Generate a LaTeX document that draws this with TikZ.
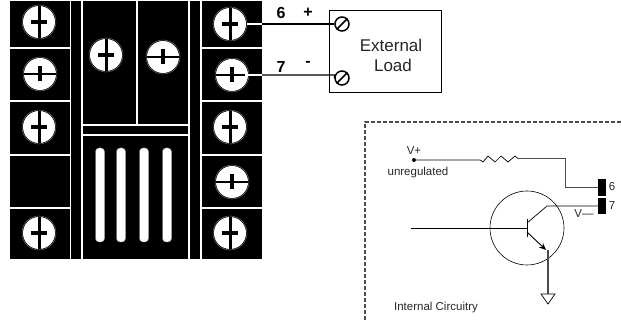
\documentclass[tikz,border=0pt]{standalone}
\usepackage{fontspec}
\setmainfont{Liberation Sans}
\usetikzlibrary{arrows.meta}
\tikzset{
  every picture/.style={x=1pt,y=-1pt},
  divider/.style={draw=white,line width=1.5pt},
  wire/.style={draw=black,line width=0.7pt},
  heavywire/.style={draw=black,line width=1.3pt},
  greywire/.style={draw=black!70,line width=0.8pt},
  slotbar/.style={fill=white,draw=black!45,line width=0.4pt,rounded corners=3.5pt},
  lbl/.style={inner sep=0pt,font=\fontsize{11.5}{12}\selectfont,text=black!85},
  biglbl/.style={inner sep=0pt,font=\fontsize{17}{18}\selectfont,text=black!85},
  boldlbl/.style={inner sep=0pt,font=\bfseries\fontsize{16}{17}\selectfont},
  loadscrew/.style={circle,draw=black,fill=white,line width=1.5pt,minimum size=14pt,inner sep=0pt},
  pin/.style={fill=black,draw=none},
}
% vertical-slot screw
\newcommand{\screwV}[2]{%
  \fill[white] (#1,#2) circle[radius=16];
  \draw[black!50,line width=0.4pt] (#1,#2) circle[radius=17];
  \fill[black] (#1-1.5,#2-16) rectangle (#1+1.5,#2+16);
  \fill[black] (#1-8,#2-2.3) rectangle (#1+8,#2+2.3);
}
% horizontal-slot screw
\newcommand{\screwH}[2]{%
  \fill[white] (#1,#2) circle[radius=16];
  \draw[black!50,line width=0.4pt] (#1,#2) circle[radius=17];
  \fill[black] (#1-16,#2-1) rectangle (#1+16,#2+1);
  \fill[black] (#1-2,#2-7.5) rectangle (#1+2,#2+7.5);
}
\begin{document}
\begin{tikzpicture}
\useasboundingbox (0,0) rectangle (621,320);
% terminal block
\fill[black] (10,1) rectangle (262,259);
% vertical dividers
\draw[divider] (70.5,0) -- (70.5,259);
\draw[divider] (82,0) -- (82,259);
\draw[divider] (189,0) -- (189,259);
\draw[divider] (201,0) -- (201,259);
\draw[divider] (137,0) -- (137,125);
% horizontal dividers, centre
\draw[divider] (82,125) -- (189,125);
\draw[divider] (82,135) -- (189,135);
% horizontal dividers, sides
\foreach \yy in {48,101,155,208}{
  \draw[divider] (10,\yy) -- (69.7,\yy);
  \draw[divider] (201,\yy) -- (262,\yy);
}
% screws
\screwV{39}{22}
\screwH{40}{74}
\screwV{39}{127}
\screwV{39}{233}
\screwV{106}{55}
\screwH{163}{57}
\screwV{230}{24}
\screwH{232}{75}
\screwV{230}{127}
\screwH{232}{182}
\screwV{230}{233}
% slots
\foreach \xx in {100,121,144,167}{
  \path[slotbar] (\xx-4.5,148) rectangle (\xx+4.5,242);
}
% external load
\node[draw=black,line width=1.2pt,minimum width=112pt,minimum height=82pt,inner sep=0pt,anchor=north west] (load) at (329,10) {};
\node[biglbl] (ext) at (391,45) {External};
\node[biglbl] (ldt) at (393,65) {Load};
\node[loadscrew] (s6) at (342,24) {};
\node[loadscrew] (s7) at (342,78) {};
\draw[line width=1.5pt] (s6.south west) -- (s6.north east);
\draw[line width=1.5pt] (s7.south west) -- (s7.north east);
\coordinate (t6) at (247,24);
\coordinate (e6) at (262,24);
\coordinate (t7) at (245,75);
\coordinate (e7) at (262,75);
\draw[white,line width=1.1pt] (t6) -- (e6);
\draw[white,line width=1.1pt] (t7) -- (e7);
\draw[heavywire] (e6) -- (s6.west);
\draw[heavywire] (e7) -- (335,75) -- (s7.west);
\node[boldlbl] (n6) at (281,13) {6};
\node[boldlbl] (np) at (308,13) {+};
\node[boldlbl] (n7) at (281,67) {7};
\node[boldlbl] (nm) at (308,64) {-};
% internal circuitry frame
\draw[black!70,line width=1.1pt,dash pattern=on 4pt off 2pt] (365,320) -- (365,122) -- (621,122);
% supply branch
\node[circle,fill=black,inner sep=0pt,minimum size=4pt] (vp) at (414,160) {};
\node[lbl] (vpt) at (414,151) {V+};
\node[lbl] (unreg) at (418,173) {unregulated};
\coordinate (r1) at (480,160);
\coordinate (r2) at (518,158.5);
\coordinate (bend1) at (565,158.5);
\coordinate (bend2) at (565,187);
\node[pin,minimum width=8pt,minimum height=17pt,inner sep=0pt] (p6) at (602,187.5) {};
\node[pin,minimum width=8pt,minimum height=16pt,inner sep=0pt] (p7) at (602,206) {};
\draw[wire] (vp) -- (r1) -- (483,162) -- (488,156) -- (495,162) -- (501,156) -- (508,162) -- (515,156) -- (r2);
\draw[greywire] (r2) -- (bend1) -- (bend2) -- (p6.west |- bend2);
\node[lbl] (l6) at (612,187) {6};
\node[lbl] (l7) at (612,206) {7};
\node[lbl] (vm) at (584,214) {V—};
% transistor
\node[circle,draw=black,line width=0.6pt,minimum size=74pt,inner sep=0pt] (q) at (527,228) {};
\coordinate (bb) at (527,228);
\coordinate (btop) at (527,219);
\coordinate (bbot) at (527,237);
\coordinate (cc) at (547,206);
\coordinate (ee) at (546,250);
\coordinate (gnd) at (548,294);
\coordinate (basein) at (411,228);
\draw[wire] (basein) -- (bb);
\draw[line width=1pt] (btop) -- (bbot);
\draw[wire] (p7.west |- cc) -- (cc) -- (527,223);
\draw[line width=0.9pt,-{Stealth[length=7pt,width=6pt]}] (527,232) -- (ee);
\draw[greywire,line width=1.1pt] (548,250) -- (gnd);
\draw[wire,fill=white] (541,294) -- (555,294) -- (548,304) -- cycle;
\node[lbl] (ic) at (436,308) {Internal Circuitry};
\end{tikzpicture}
\end{document}
